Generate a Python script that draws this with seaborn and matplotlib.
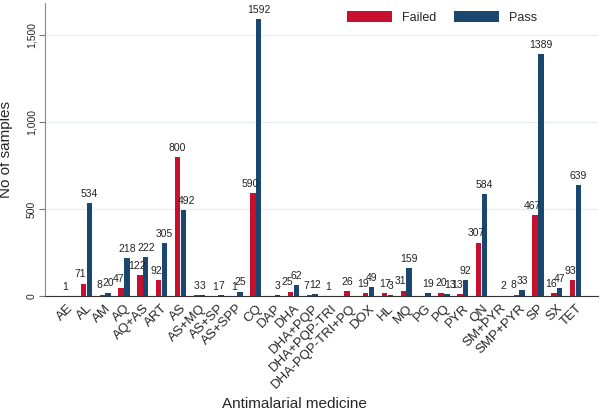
import numpy as np
import pandas as pd
import matplotlib
matplotlib.use("Agg")
import matplotlib.pyplot as plt
import seaborn as sns

medicines = ["AE", "AL", "AM", "AQ", "AQ+AS", "ART", "AS", "AS+MQ", "AS+SP", "AS+SPP",
             "CQ", "DAP", "DHA", "DHA+PQP", "DHA+PQP-TRI", "DHA-PQP-TRI+PQ", "DOX", "HL",
             "MQ", "PG", "PQ", "PYR", "QN", "SM+PYR", "SMP+PYR", "SP", "SX", "TET"]
failed = [1, 71, 8, 47, 122, 92, 800, 3, 1, 1,
          590, np.nan, 25, 7, 1, 26, 19, 17,
          31, np.nan, 20, 13, 307, np.nan, 8, 467, 16, 93]
passed = [np.nan, 534, 20, 218, 222, 305, 492, 3, 7, 25,
          1592, 3, 62, 12, np.nan, np.nan, 49, 3,
          159, 19, 13, 92, 584, 2, 33, 1389, 47, 639]

df = pd.DataFrame({"medicine": medicines, "Failed": failed, "Pass": passed})
long = df.melt(id_vars="medicine", var_name="result", value_name="n")

sns.set_style("white")
plt.rcParams["font.family"] = ["Liberation Sans", "DejaVu Sans"]

fig = plt.figure(figsize=(6, 4.16), dpi=100)
ax = fig.add_axes([0.075, 0.2885, 0.922, 0.7045])

palette = {"Failed": "#C8102E", "Pass": "#1A476F"}
sns.barplot(data=long, x="medicine", y="n", hue="result", order=medicines,
            hue_order=["Failed", "Pass"], palette=palette, width=0.62, gap=0.07,
            saturation=1, linewidth=0, ax=ax, legend=True)

# nudge a label away from the taller neighbouring bar
f_arr = np.nan_to_num(np.array(failed, dtype=float))
p_arr = np.nan_to_num(np.array(passed, dtype=float))
for k, cont in enumerate(ax.containers):
    labels = ["" if np.isnan(v) else f"{int(v)}" for v in cont.datavalues]
    txts = ax.bar_label(cont, labels=labels, fontsize=7.5, padding=3, color="#222222")
    for t, bar in zip(txts, cont):
        i = int(round(bar.get_x() + bar.get_width() / 2))
        dx = 0
        if k == 0 and p_arr[i] > f_arr[i] and f_arr[i] > 5:
            dx = -2
        if k == 1 and f_arr[i] > p_arr[i] and p_arr[i] > 5:
            dx = 2
        t.xyann = (dx, 3)
        t.set_zorder(10)

ax.set_xlim(-1.2, len(medicines) + 0.2)
ax.set_ylim(0, 1684)
ax.set_yticks([0, 500, 1000, 1500])
ax.set_yticklabels(["0", "500", "1,000", "1,500"], rotation=90, va="center", fontsize=7.5)
ax.yaxis.grid(True, color="#E6EFF0", linewidth=1)
ax.set_axisbelow(True)
ax.tick_params(axis="y", left=True, length=4, color="#777777", pad=2)
ax.tick_params(axis="x", bottom=False, pad=1)
plt.setp(ax.get_xticklabels(), rotation=45, ha="right", rotation_mode="anchor", fontsize=9.5)

for s in ["top", "right"]:
    ax.spines[s].set_visible(False)
ax.spines["left"].set_color("#888888")
ax.spines["bottom"].set_color("#333333")

ax.set_ylabel("No of samples", fontsize=11, labelpad=10)
ax.set_xlabel("Antimalarial medicine", fontsize=11)
ax.xaxis.set_label_coords(0.45, -0.345)

ax.legend(title=None, frameon=False, ncol=2, loc="upper right", bbox_to_anchor=(0.91, 1.01),
          handlelength=3.6, handleheight=0.9, handletextpad=0.8, columnspacing=1.4,
          fontsize=9)

fig.savefig("out.png", dpi=100)
